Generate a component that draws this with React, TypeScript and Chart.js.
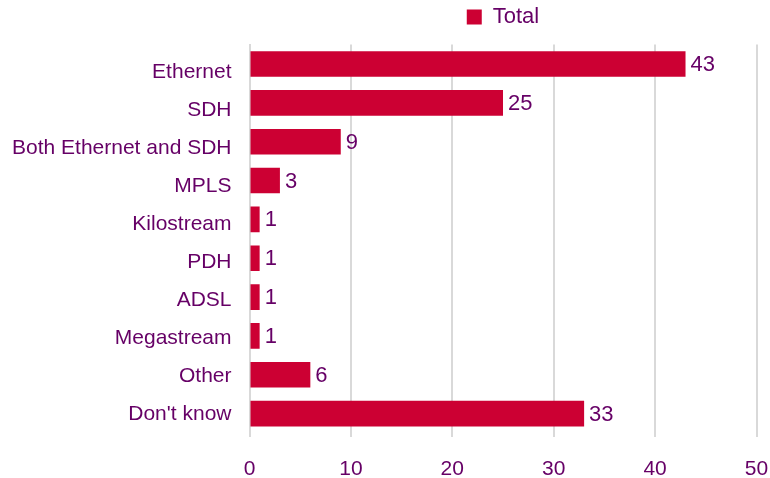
import React, { useEffect, useRef } from "react";
import { Chart, registerables } from "chart.js";

Chart.register(...registerables);

const categories = [
  "Ethernet",
  "SDH",
  "Both Ethernet and SDH",
  "MPLS",
  "Kilostream",
  "PDH",
  "ADSL",
  "Megastream",
  "Other",
  "Don't know",
];
const totals = [43, 25, 9, 3, 1, 1, 1, 1, 6, 33];
const seriesName = "Total";
const xMin = 0;
const xMax = 50;
const xStep = 10;
// category-label axis range (labels sit on a slightly tighter pitch than the bars)
const labelAxisMin = -0.734;
const labelAxisMax = 9.49;

const BAR = "#CC0033";
const TEXT = "#660066";
const GRID = "#D9D9D9";
const FONT = "'Liberation Sans', Arial, sans-serif";

const legendMargin = {
  id: "legendMargin",
  beforeInit(chart: any) {
    const lg = chart.legend;
    if (lg && lg.fit) {
      const orig = lg.fit;
      lg.fit = function () {
        orig.call(lg);
        lg.height += 6.6;
      };
    }
  },
};

const valueLabels = {
  id: "valueLabels",
  afterDatasetsDraw(chart: any) {
    const ctx = chart.ctx;
    ctx.save();
    ctx.font = `22px ${FONT}`;
    ctx.fillStyle = TEXT;
    ctx.textAlign = "left";
    ctx.textBaseline = "middle";
    chart.data.datasets.forEach((ds: any, i: number) => {
      const meta = chart.getDatasetMeta(i);
      meta.data.forEach((el: any, j: number) => {
        ctx.fillText(String(ds.data[j]), el.x + 5, el.y + 1);
      });
    });
    ctx.restore();
  },
};

export default function App() {
  const ref = useRef<HTMLCanvasElement | null>(null);
  useEffect(() => {
    if (!ref.current) return;
    const chart = new Chart(ref.current, {
      type: "bar",
      data: {
        labels: categories,
        datasets: [
          {
            label: seriesName,
            data: totals,
            backgroundColor: BAR,
            borderWidth: 0,
            categoryPercentage: 1,
            barPercentage: 0.66,
          },
        ],
      },
      plugins: [legendMargin, valueLabels],
      options: {
        indexAxis: "y",
        animation: false,
        responsive: false,
        maintainAspectRatio: false,
        layout: { padding: { left: 0, right: 0, top: 0, bottom: 0 } },
        plugins: {
          legend: {
            display: true,
            position: "top",
            fullSize: false,
            labels: {
              boxWidth: 15,
              boxHeight: 15,
              padding: 6,
              color: TEXT,
              font: { family: FONT, size: 22 },
            },
          },
          tooltip: { enabled: false },
        },
        scales: {
          x: {
            min: xMin,
            max: xMax,
            ticks: {
              stepSize: xStep,
              color: TEXT,
              font: { family: FONT, size: 21 },
              padding: 19.5,
            },
            grid: {
              color: GRID,
              lineWidth: 2,
              tickLength: 4,
              drawTicks: true,
            },
            border: { display: false },
            afterFit(scale: any) {
              scale.height = 45;
              scale.paddingRight = 13.5;
            },
          },
          y: {
            position: "left",
            ticks: { display: false },
            grid: { display: false, drawTicks: false },
            border: { display: true, color: GRID, width: 2 },
            afterFit(scale: any) {
              scale.width = 0;
            },
          },
          yLabels: {
            type: "linear",
            position: "left",
            reverse: true,
            offset: false,
            min: labelAxisMin,
            max: labelAxisMax,
            afterBuildTicks(scale: any) {
              scale.ticks = categories.map((_, i) => ({ value: i }));
            },
            ticks: {
              autoSkip: false,
              color: TEXT,
              font: { family: FONT, size: 21 },
              padding: 18,
              callback: (v: any) => categories[Math.round(Number(v))] ?? "",
            },
            grid: { display: false, drawTicks: false, offset: false },
            border: { display: false },
            afterFit(scale: any) {
              scale.width = 249.5;
            },
          },
        },
      },
    });
    return () => chart.destroy();
  }, []);
  return (
    <div style={{ position: "absolute", left: 0, top: 0, width: 770, height: 478 }}>
      <canvas ref={ref} width={770} height={478} style={{ width: 770, height: 478 }} />
    </div>
  );
}
